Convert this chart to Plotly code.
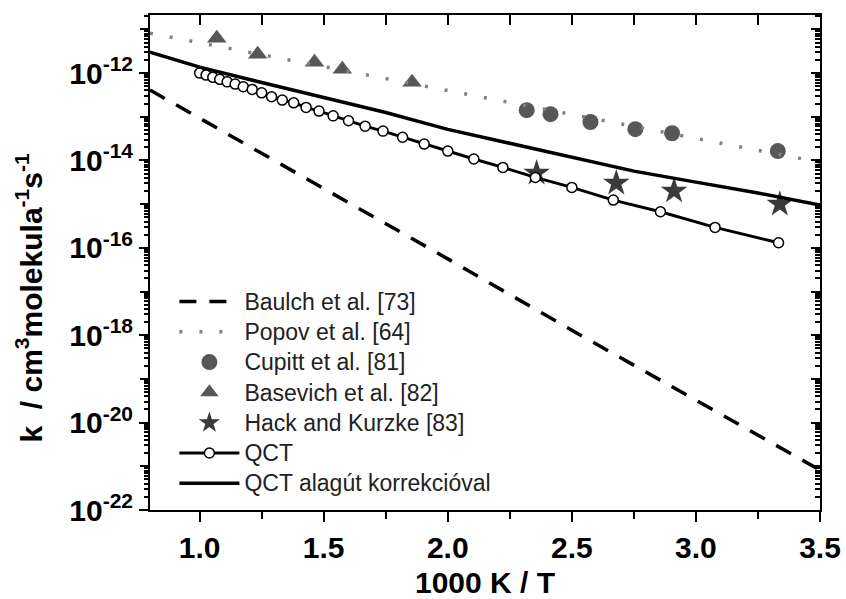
import plotly.graph_objects as go

# ---------------- data ----------------
baulch_x = [0.8, 1.5, 2.0, 2.5, 3.0, 3.5]
baulch_k = [4.1e-13, 2.3e-15, 5.6e-17, 1.3e-18, 3.3e-20, 8.2e-22]

popov_x = [0.8, 1.5, 2.0, 2.5, 3.0, 3.5]
popov_k = [8.2e-12, 1.41e-12, 4.0e-13, 1.13e-13, 3.2e-14, 9.1e-15]

cupitt_x = [2.318, 2.414, 2.575, 2.756, 2.904, 3.33]
cupitt_k = [1.42e-13, 1.15e-13, 7.6e-14, 5.2e-14, 4.2e-14, 1.64e-14]

basevich_x = [1.069, 1.234, 1.463, 1.575, 1.856]
basevich_k = [6.3e-12, 2.7e-12, 1.78e-12, 1.23e-12, 6.2e-13]

hack_x = [2.358, 2.679, 2.912, 3.338]
hack_k = [5.15e-15, 3.04e-15, 2.0e-15, 1.0e-15]

qct_x = [1.000, 1.026, 1.053, 1.081, 1.111, 1.143, 1.176, 1.212, 1.250, 1.290,
         1.333, 1.379, 1.429, 1.481, 1.538, 1.600, 1.667, 1.739, 1.818, 1.905,
         2.000, 2.105, 2.222, 2.353, 2.500, 2.667, 2.857, 3.077, 3.333]
qct_k = [1.0e-12, 9.0e-13, 8.0e-13, 7.2e-13, 6.3e-13, 5.6e-13, 4.86e-13, 4.24e-13, 3.54e-13, 2.87e-13,
         2.41e-13, 2.09e-13, 1.64e-13, 1.35e-13, 1.05e-13, 8.1e-14, 6.1e-14, 4.7e-14, 3.4e-14, 2.37e-14,
         1.64e-14, 1.08e-14, 6.95e-15, 4.1e-15, 2.42e-15, 1.24e-15, 6.7e-16, 2.94e-16, 1.31e-16]

tunnel_x = [0.8, 1.0, 1.25, 1.5, 1.75, 2.0, 2.25, 2.5, 2.75, 3.0, 3.25, 3.5]
tunnel_k = [3.0e-12, 1.37e-12, 6.1e-13, 2.8e-13, 1.25e-13, 5.15e-14, 2.44e-14, 1.16e-14,
            5.7e-15, 3.2e-15, 1.8e-15, 9.5e-16]

x_ticks = [1.0, 1.5, 2.0, 2.5, 3.0, 3.5]
x_ticktext = ["1.0", "1.5", "2.0", "2.5", "3.0", "3.5"]
y_label_exps = [-22, -20, -18, -16, -14, -12]
y_decade_exps = list(range(-22, -10))

# ---------------- figure ----------------
FONT = "Liberation Sans, Arial, sans-serif"
GRAY = "#575757"


def lg(name):
    return "<span style='font-size:23px'>%s</span>" % name


fig = go.Figure()
fig.add_trace(go.Scatter(x=baulch_x, y=baulch_k, mode="lines", name=lg("Baulch et al. [73]"),
                         line=dict(color="black", width=3.5, dash="17px,13px")))
fig.add_trace(go.Scatter(x=popov_x, y=popov_k, mode="lines", name=lg("Popov et al. [64]"),
                         line=dict(color="#808080", width=3.5, dash="3px,17px"),
                         xaxis="x", yaxis="y3"))
fig.add_trace(go.Scatter(x=cupitt_x, y=cupitt_k, mode="markers", name=lg("Cupitt et al. [81]"),
                         marker=dict(symbol="circle", size=16, color=GRAY)))
fig.add_trace(go.Scatter(x=basevich_x, y=basevich_k, mode="markers", name=lg("Basevich et al. [82]"),
                         marker=dict(symbol="triangle-up", size=17, color=GRAY)))
fig.add_trace(go.Scatter(x=hack_x, y=hack_k, mode="markers", name=lg("Hack and Kurzke [83]"),
                         marker=dict(symbol="star", size=20, color="#3a3a3a")))
fig.add_trace(go.Scatter(x=qct_x, y=qct_k, mode="lines+markers", name=lg("QCT"),
                         line=dict(color="black", width=3),
                         marker=dict(symbol="circle", size=10, color="white",
                                     line=dict(color="black", width=1.5))))
fig.add_trace(go.Scatter(x=tunnel_x, y=tunnel_k, mode="lines", name=lg("QCT alagút korrekcióval"),
                         line=dict(color="black", width=3.5), xaxis="x2", yaxis="y2"))

label_vals = [10.0 ** e for e in y_label_exps]
label_text = ["10<sup style='font-size:18px'>%d</sup>" % e for e in y_label_exps]
decade_vals = [10.0 ** e for e in y_decade_exps]
minor_vals = [m * 10.0 ** e for e in y_decade_exps for m in range(2, 10)]

xr = [0.8, 3.5]
yr = [-22, -10.67]
TICKFONT = dict(family=FONT, size=30, color="black", weight="bold")

fig.update_layout(
    width=846, height=599,
    margin=dict(l=150, r=26, t=15, b=89, autoexpand=False),
    paper_bgcolor="white", plot_bgcolor="white",
    font=dict(family=FONT, color="black"),
    showlegend=True,
    legend=dict(x=0.0364, y=0.462, xanchor="left", yanchor="top",
                bgcolor="rgba(0,0,0,0)", itemwidth=60,
                font=dict(family=FONT, size=21, color="#222222"),
                tracegroupgap=0),
    xaxis=dict(range=xr, tickvals=x_ticks, ticktext=x_ticktext, automargin=False,
               ticks="outside", ticklen=10, tickwidth=2, tickcolor="black",
               minor=dict(dtick=0.25, tick0=0, ticks="outside", ticklen=7, tickwidth=2, tickcolor="black"),
               showline=True, linecolor="black", linewidth=2, showgrid=False, zeroline=False,
               tickfont=TICKFONT,
               title=dict(text="<b>1000 K / T</b>", font=dict(family=FONT, size=30, color="black"),
                          standoff=18)),
    yaxis=dict(type="log", range=yr, tickvals=label_vals, ticktext=label_text, automargin=False,
               ticks="outside", ticklen=9, tickwidth=2, tickcolor="black",
               showline=True, linecolor="black", linewidth=2, showgrid=False, zeroline=False,
               tickfont=TICKFONT),
    yaxis3=dict(overlaying="y", side="left", anchor="x", matches="y", type="log", range=yr,
                tickvals=decade_vals, showticklabels=False, automargin=False,
                ticks="outside", ticklen=9, tickwidth=2, tickcolor="black",
                minor=dict(tickmode="array", tickvals=minor_vals, ticks="outside", ticklen=5,
                           tickwidth=1.5, tickcolor="black"),
                showline=False, showgrid=False, zeroline=False),
    xaxis2=dict(overlaying="x", side="top", anchor="y2", matches="x", range=xr,
                tickvals=x_ticks, showticklabels=False, automargin=False,
                ticks="inside", ticklen=10, tickwidth=2, tickcolor="black",
                minor=dict(dtick=0.25, tick0=0, ticks="inside", ticklen=10, tickwidth=2, tickcolor="black"),
                showline=True, linecolor="black", linewidth=2, showgrid=False, zeroline=False),
    yaxis2=dict(overlaying="y", side="right", anchor="x2", matches="y", type="log", range=yr,
                tickvals=decade_vals, showticklabels=False, automargin=False,
                ticks="inside", ticklen=9, tickwidth=2, tickcolor="black",
                minor=dict(tickmode="array", tickvals=minor_vals, ticks="inside", ticklen=5,
                           tickwidth=1.5, tickcolor="black"),
                showline=True, linecolor="black", linewidth=2, showgrid=False, zeroline=False),
    annotations=[dict(text="<b>k  / cm<sup>3</sup>molekula<sup>-1</sup>s<sup>-1</sup></b>",
                      xref="paper", yref="paper", x=-0.18, y=0.43, textangle=-90,
                      xanchor="center", yanchor="middle", showarrow=False,
                      font=dict(family=FONT, size=30, color="black"))],
)

fig.write_html("out.html")
